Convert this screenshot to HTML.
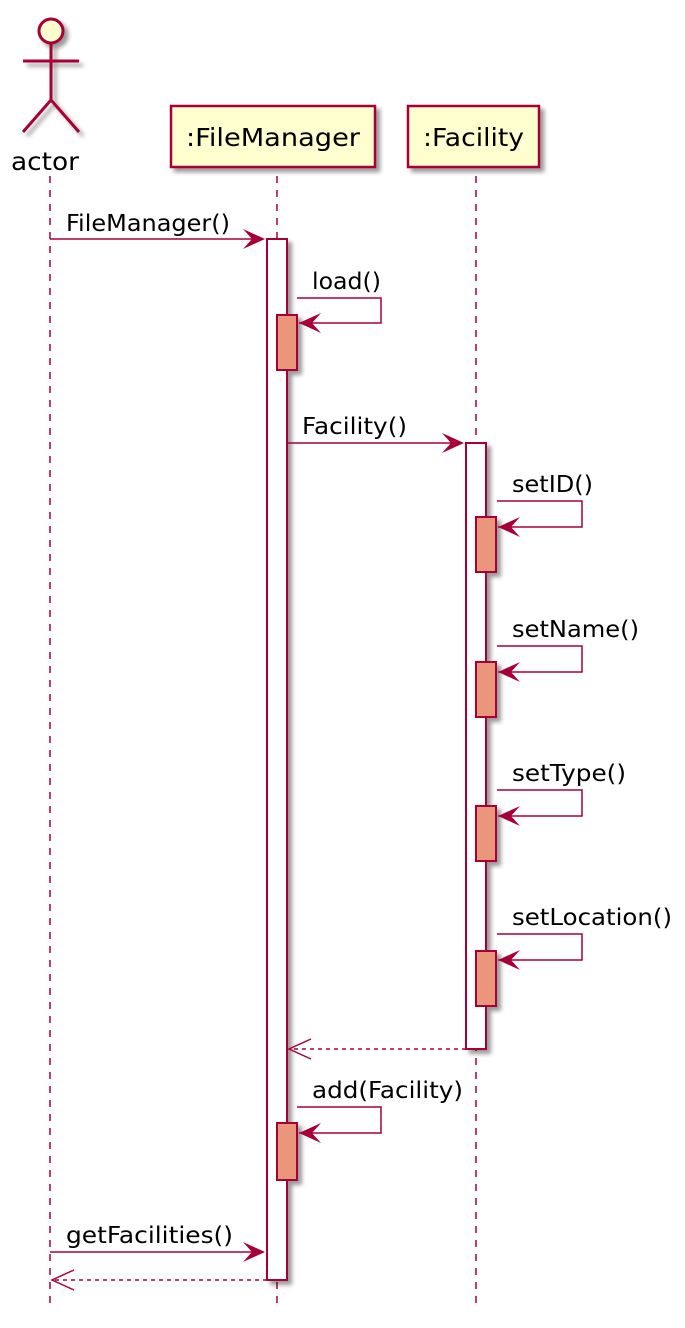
<!DOCTYPE html>
<html><head><meta charset="utf-8"><style>
html,body{margin:0;padding:0;background:#fff;}
svg{display:block;}
text{font-family:"DejaVu Sans","Liberation Sans",sans-serif;fill:#000;}
</style></head><body>
<svg width="685" height="1328" viewBox="0 0 685 1328" xmlns="http://www.w3.org/2000/svg">
<defs>
<filter id="sh" x="-20%" y="-20%" width="150%" height="150%">
<feGaussianBlur in="SourceAlpha" stdDeviation="2"/>
<feOffset dx="4" dy="4"/>
<feComponentTransfer><feFuncA type="linear" slope="0.4"/></feComponentTransfer>
<feMerge><feMergeNode/><feMergeNode in="SourceGraphic"/></feMerge>
</filter>
</defs>
<g stroke="#A80036" stroke-width="1.5" stroke-dasharray="7,7" fill="none">
<line x1="50" y1="176" x2="50" y2="1305"/>
<line x1="277" y1="176" x2="277" y2="1305"/>
<line x1="476" y1="176" x2="476" y2="1305"/>
</g>
<g stroke="#A80036" stroke-width="3" fill="none" filter="url(#sh)">
<circle cx="51" cy="31" r="12" fill="#FEFECE"/>
<line x1="51" y1="43" x2="51" y2="100"/>
<line x1="23" y1="61" x2="79" y2="61"/>
<line x1="51" y1="100" x2="23" y2="132"/>
<line x1="51" y1="100" x2="79" y2="132"/>
</g>
<text x="11" y="170" font-size="25" textLength="68" lengthAdjust="spacingAndGlyphs">actor</text>
<rect x="171" y="106" width="204" height="61" fill="#FEFECE" stroke="#A80036" stroke-width="2.5" filter="url(#sh)"/>
<text x="186" y="146" font-size="25" textLength="174" lengthAdjust="spacingAndGlyphs">:FileManager</text>
<rect x="408" y="106" width="131" height="61" fill="#FEFECE" stroke="#A80036" stroke-width="2.5" filter="url(#sh)"/>
<text x="423" y="146" font-size="25" textLength="101" lengthAdjust="spacingAndGlyphs">:Facility</text>
<g stroke="#A80036" stroke-width="2" filter="url(#sh)">
<rect x="267" y="239" width="20" height="1041" fill="#fff"/>
<rect x="466" y="443" width="20" height="606" fill="#fff"/>
<g fill="#E9967A">
<rect x="277" y="315" width="20" height="55"/>
<rect x="476" y="517" width="20" height="55"/>
<rect x="476" y="662" width="20" height="55"/>
<rect x="476" y="806" width="20" height="55"/>
<rect x="476" y="951" width="20" height="55"/>
<rect x="277" y="1123" width="20" height="57"/>
</g>
</g>
<g stroke="#A80036" stroke-width="1.5" fill="none">
<line x1="50" y1="239" x2="263" y2="239"/>
<polyline points="297,298 381,298 381,323 299,323"/>
<line x1="287" y1="443" x2="462" y2="443"/>
<polyline points="497,501 582,501 582,527 498,527"/>
<polyline points="497,646 582,646 582,672 498,672"/>
<polyline points="497,790 582,790 582,816 498,816"/>
<polyline points="497,934 582,934 582,960 498,960"/>
<line x1="466" y1="1049" x2="291" y2="1049" stroke-dasharray="4,4"/>
<polyline points="297,1107 381,1107 381,1133 299,1133"/>
<line x1="50" y1="1252" x2="263" y2="1252"/>
<line x1="267" y1="1280" x2="54" y2="1280" stroke-dasharray="4,4"/>
</g>
<g fill="#A80036">
<polygon points="265,239 243,229 252,239 243,249"/>
<polygon points="299,323 321,313 312,323 321,333"/>
<polygon points="464,443 442,433 451,443 442,453"/>
<polygon points="498,527 520,517 511,527 520,537"/>
<polygon points="498,672 520,662 511,672 520,682"/>
<polygon points="498,816 520,806 511,816 520,826"/>
<polygon points="498,960 520,950 511,960 520,970"/>
<polygon points="299,1133 321,1123 312,1133 321,1143"/>
<polygon points="265,1252 243,1242 252,1252 243,1262"/>
</g>
<g stroke="#A80036" stroke-width="1.5" fill="none">
<polyline points="311,1039 289,1049 311,1059"/>
<polyline points="74,1270 52,1280 74,1290"/>
</g>
<g font-size="23" lengthAdjust="spacingAndGlyphs">
<text x="66" y="231" textLength="164" lengthAdjust="spacingAndGlyphs">FileManager()</text>
<text x="312" y="289" textLength="69" lengthAdjust="spacingAndGlyphs">load()</text>
<text x="302" y="434" textLength="105" lengthAdjust="spacingAndGlyphs">Facility()</text>
<text x="512" y="492" textLength="81" lengthAdjust="spacingAndGlyphs">setID()</text>
<text x="512" y="637" textLength="127" lengthAdjust="spacingAndGlyphs">setName()</text>
<text x="512" y="781" textLength="114" lengthAdjust="spacingAndGlyphs">setType()</text>
<text x="512" y="925" textLength="160" lengthAdjust="spacingAndGlyphs">setLocation()</text>
<text x="312" y="1098" textLength="151" lengthAdjust="spacingAndGlyphs">add(Facility)</text>
<text x="66" y="1243" textLength="167" lengthAdjust="spacingAndGlyphs">getFacilities()</text>
</g>
</svg>
</body></html>
